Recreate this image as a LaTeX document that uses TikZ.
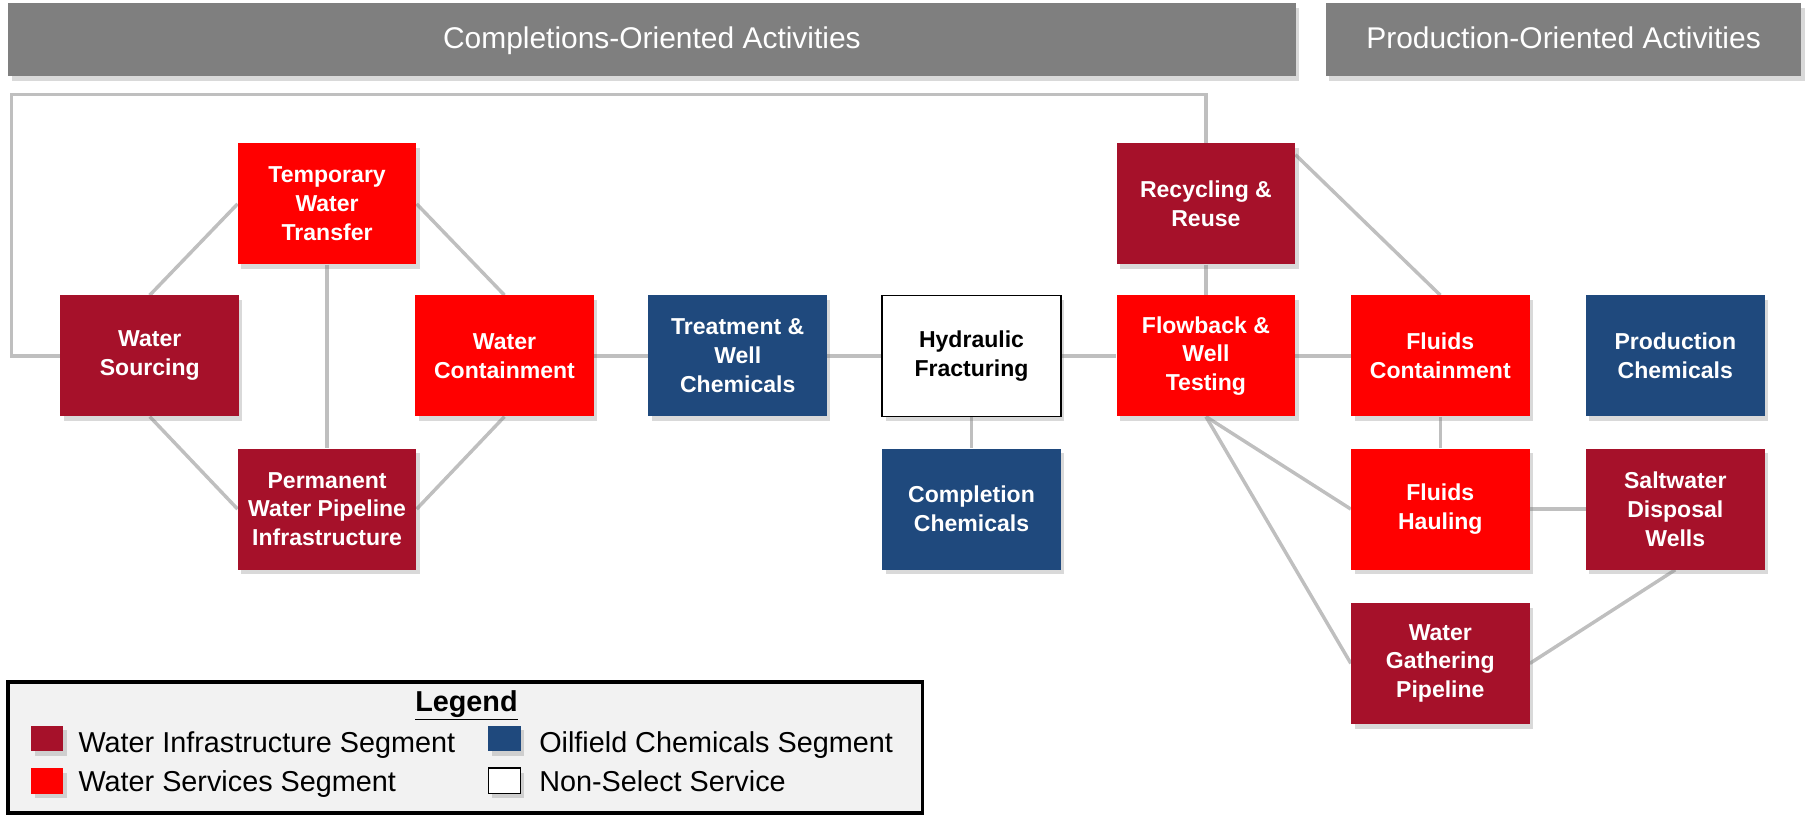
\documentclass[tikz,border=0pt]{standalone}
\usepackage{fontspec}
\setmainfont{Liberation Sans}
\usetikzlibrary{shadows,backgrounds}
\definecolor{infra}{RGB}{166,17,42}
\definecolor{service}{RGB}{255,0,0}
\definecolor{chem}{RGB}{31,73,125}
\definecolor{linkgray}{RGB}{191,191,191}
\definecolor{bannergray}{RGB}{127,127,127}
\definecolor{legendfill}{RGB}{242,242,242}

\begin{document}
\begin{tikzpicture}
	[	x=1pt,y=-1pt,
	shade/.style={drop shadow={shadow xshift=3pt,shadow yshift=-4pt,opacity=.3}},
	box/.style={rectangle,shade,minimum width=155pt,minimum height=105pt,inner sep=2pt,
		align=center,text=white,font=\bfseries\fontsize{20}{25}\selectfont},
	infrabox/.style={box,fill=infra},
	servicebox/.style={box,fill=service},
	chembox/.style={box,fill=chem},
	otherbox/.style={box,fill=white,draw=black,line width=1.5pt,text=black},
	banner/.style={rectangle,shade,fill=bannergray,minimum height=63pt,text=white,
		text height=19pt,text depth=3pt,font=\fontsize{26}{30}\selectfont},
	link/.style={draw=linkgray,line width=3pt},
	swatch/.style={rectangle,shade,minimum width=28pt,minimum height=22pt,inner sep=0pt},
	key/.style={anchor=base west,inner sep=0pt,font=\fontsize{25}{30}\selectfont}
	]
	\useasboundingbox (0,0) rectangle (1568,707);

	% headers
	\node[banner,minimum width=1118pt] (compl) at (566,34.5){Completions-Oriented Activities};
	\node[banner,minimum width=413pt] (prod) at (1357.5,34.5){Production-Oriented Activities};

	% completions side
	\node[servicebox] (twt) at (284,177){Temporary\\Water\\Transfer};
	\node[infrabox] (ws) at (130,309){Water\\Sourcing};
	\node[servicebox] (wc) at (438,309){Water\\Containment};
	\node[infrabox] (pwpi) at (284,442){Permanent\\Water Pipeline\\Infrastructure};
	\node[chembox] (twc) at (640.5,309){Treatment \&\\Well\\Chemicals};
	\node[otherbox] (hf) at (843.5,309){Hydraulic\\Fracturing};
	\node[chembox] (cc) at (843.5,442){Completion\\Chemicals};

	% production side
	\node[infrabox] (rr) at (1047,177){Recycling \&\\Reuse};
	\node[servicebox] (fwt) at (1047,309){Flowback \&\\Well\\Testing};
	\node[servicebox] (fc) at (1250.5,309){Fluids\\Containment};
	\node[chembox] (pc) at (1454.5,309){Production\\Chemicals};
	\node[servicebox] (fh) at (1250.5,442){Fluids\\Hauling};
	\node[infrabox] (sdw) at (1454.5,442){Saltwater\\Disposal\\Wells};
	\node[infrabox] (wgp) at (1250.5,576){Water\\Gathering\\Pipeline};

	\coordinate (loop) at (10,82);

	\begin{scope}[on background layer]
	\draw[link] (ws.west) -| (loop) -| (rr.north);
	\draw[link] (ws.north) -- (twt.west);
	\draw[link] (twt.east) -- (wc.north);
	\draw[link] (twt.south) -- (pwpi.north);
	\draw[link] (ws.south) -- (pwpi.west);
	\draw[link] (wc.south) -- (pwpi.east);
	\draw[link] (wc.east) -- (twc.west);
	\draw[link] (twc.east) -- (hf.west);
	\draw[link] (hf.east) -- (fwt.west);
	\draw[link] (hf.south) -- (cc.north);
	\draw[link] (rr.south) -- (fwt.north);
	\draw[link] ([yshift=-10pt]rr.north east) -- (fc.north);
	\draw[link] (fwt.east) -- (fc.west);
	\draw[link] (fc.south) -- (fh.north);
	\draw[link] (fwt.south) -- (fh.west);
	\draw[link] (fwt.south) -- (wgp.west);
	\draw[link] (fh.east) -- (sdw.west);
	\draw[link] (sdw.south) -- (wgp.east);
	\end{scope}

	% legend
	\node[rectangle,draw=black,line width=3pt,fill=legendfill,minimum width=794pt,
		minimum height=114pt] (legend) at (404,649){};
	\node[font=\bfseries\fontsize{25}{30}\selectfont] (title) at (405,612){\underline{Legend}};
	\node[swatch,fill=infra] (k1) at (41,641){};
	\node[key] (t1) at (68,653){Water Infrastructure Segment};
	\node[swatch,fill=service] (k2) at (41,678){};
	\node[key] (t2) at (68,687){Water Services Segment};
	\node[swatch,fill=chem] (k3) at (438,641){};
	\node[key] (t3) at (468,653){Oilfield Chemicals Segment};
	\node[swatch,fill=white,draw=black,line width=1.5pt] (k4) at (438,678){};
	\node[key] (t4) at (468,687){Non-Select Service};
\end{tikzpicture}
\end{document}
